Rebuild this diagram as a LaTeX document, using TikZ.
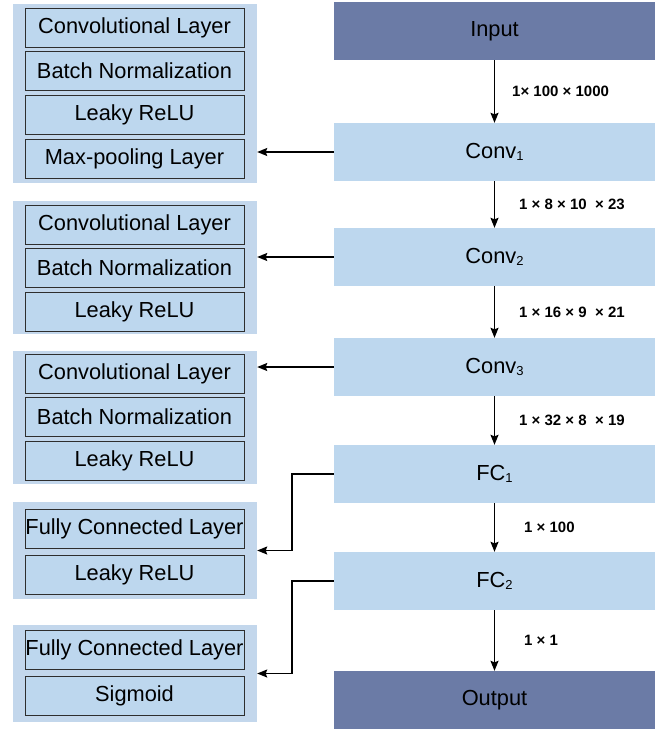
\documentclass[tikz,border=0pt]{standalone}
\usepackage{fontspec}
\setmainfont{Liberation Sans}
\usetikzlibrary{arrows.meta,calc}
\definecolor{darkblk}{HTML}{6B7BA6}
\definecolor{lightblk}{HTML}{BDD7EE}
\definecolor{groupbg}{HTML}{C3D7EC}
\definecolor{edge}{HTML}{2E2E2E}
\newcommand{\lsub}[1]{\raisebox{-1.5pt}{\fontsize{13}{13}\selectfont #1}}
\tikzset{
  stage/.style={minimum width=321pt,minimum height=58pt,inner sep=0pt,
    font=\fontsize{21.8}{24}\selectfont},
  mainstage/.style={stage,fill=lightblk},
  endstage/.style={stage,fill=darkblk},
  group/.style={fill=groupbg,minimum width=244pt,inner sep=0pt},
  layerbox/.style={draw=edge,line width=0.9pt,fill=lightblk,minimum width=219pt,
    minimum height=39pt,inner sep=0pt,font=\fontsize{21.8}{24}\selectfont},
  arr/.style={line width=1.4pt,-{Stealth[length=10pt,width=8pt,inset=1.5pt]}},
  dims/.style={anchor=west,inner sep=0pt,font=\bfseries\fontsize{15}{16}\selectfont}
}
\begin{document}
\begin{tikzpicture}[x=1pt,y=-1pt]
\useasboundingbox (0,0) rectangle (672,731);

% main pipeline
\node[endstage]  (input)  at (494.5,31)  {Input};
\node[mainstage] (conv1)  at (494.5,152) {Conv\lsub{1}};
\node[mainstage] (conv2)  at (494.5,257) {Conv\lsub{2}};
\node[mainstage] (conv3)  at (494.5,367) {Conv\lsub{3}};
\node[mainstage] (fc1)    at (494.5,474) {FC\lsub{1}};
\node[mainstage] (fc2)    at (494.5,581) {FC\lsub{2}};
\node[endstage]  (output) at (494.5,700) {Output};

% layer groups
\node[group,minimum height=179pt] (g1) at (135,93.5) {};
\node[group,minimum height=133pt] (g2) at (135,267.5) {};
\node[group,minimum height=133pt] (g3) at (135,417.5) {};
\node[group,minimum height=97pt]  (g4) at (135,550.5) {};
\node[group,minimum height=97pt]  (g5) at (135,673.5) {};

\node[layerbox] (g1a) at (134.5,27.5)  {Convolutional Layer};
\node[layerbox] (g1b) at (134.5,70.5)  {Batch Normalization};
\node[layerbox] (g1c) at (134.5,114.5) {Leaky ReLU};
\node[layerbox] (g1d) at (134.5,158.5) {Max-pooling Layer};

\node[layerbox] (g2a) at (134.5,224.5) {Convolutional Layer};
\node[layerbox] (g2b) at (134.5,268)   {Batch Normalization};
\node[layerbox] (g2c) at (134.5,311.5) {Leaky ReLU};

\node[layerbox] (g3a) at (134.5,373.5) {Convolutional Layer};
\node[layerbox] (g3b) at (134.5,416.5) {Batch Normalization};
\node[layerbox] (g3c) at (134.5,460.5) {Leaky ReLU};

\node[layerbox] (g4a) at (134.5,528.5) {Fully Connected Layer};
\node[layerbox] (g4b) at (134.5,574.5) {Leaky ReLU};

\node[layerbox] (g5a) at (134.5,649.5) {Fully Connected Layer};
\node[layerbox] (g5b) at (134.5,695.5) {Sigmoid};

% data flow
\draw[arr] (input) -- (conv1) node[midway,dims,xshift=17pt] {1× 100 × 1000};
\draw[arr] (conv1) -- (conv2) node[midway,dims,xshift=24pt] {1 × 8 × 10 \ × 23};
\draw[arr] (conv2) -- (conv3) node[midway,dims,xshift=24pt] {1 × 16 × 9 \ × 21};
\draw[arr] (conv3) -- (fc1)   node[midway,dims,xshift=24pt] {1 × 32 × 8 \ × 19};
\draw[arr] (fc1)   -- (fc2)   node[midway,dims,xshift=29pt] {1 × 100};
\draw[arr] (fc2)   -- (output) node[midway,dims,xshift=29pt] {1 × 1};

% links to the layer groups
\draw[arr] (conv1.west) -- (conv1.west -| g1.east);
\draw[arr] (conv2.west) -- (conv2.west -| g2.east);
\draw[arr] (conv3.west) -- (conv3.west -| g3.east);
\draw[arr] (fc1.west) -- ++(-42,0) |- (g4.east);
\draw[arr] (fc2.west) -- ++(-42,0) |- (g5.east);
\end{tikzpicture}
\end{document}
